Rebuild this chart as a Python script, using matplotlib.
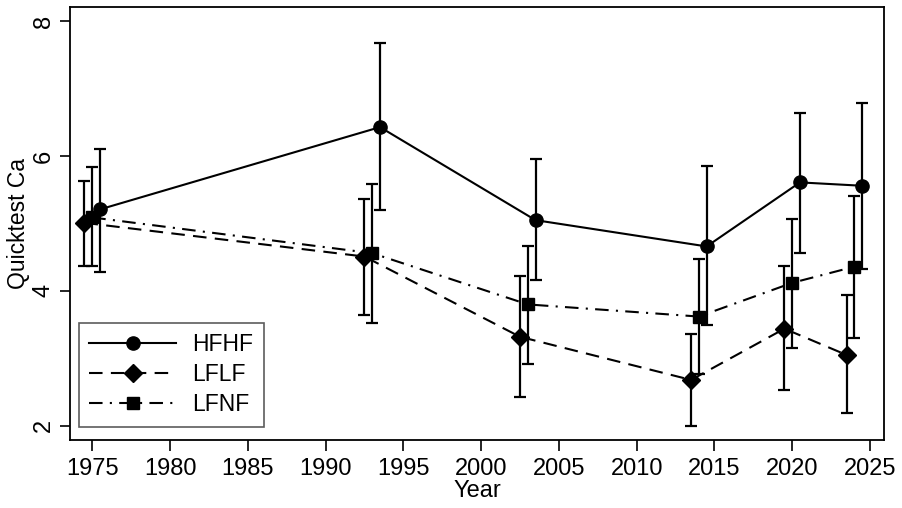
import numpy as np
import matplotlib
matplotlib.use("Agg")
from matplotlib import pyplot as plt

plt.rcParams['font.family'] = ['Liberation Sans', 'DejaVu Sans']

# survey years and the three treatments
years = [1975, 1993, 2003, 2014, 2020, 2024]
groups = ["HFHF", "LFLF", "LFNF"]

# mean and the ends of the error bars for each treatment
hfhf_mean = [5.21, 6.43, 5.05, 4.66, 5.61, 5.56]
hfhf_low = [4.28, 5.20, 4.16, 3.50, 4.57, 4.33]
hfhf_high = [6.10, 7.68, 5.96, 5.86, 6.64, 6.79]

lflf_mean = [5.01, 4.51, 3.32, 2.68, 3.44, 3.05]
lflf_low = [4.37, 3.64, 2.42, 2.00, 2.53, 2.19]
lflf_high = [5.63, 5.36, 4.22, 3.36, 4.37, 3.94]

lfnf_mean = [5.09, 4.56, 3.80, 3.62, 4.12, 4.36]
lfnf_low = [4.37, 3.52, 2.91, 2.77, 3.15, 3.30]
lfnf_high = [5.84, 5.59, 4.66, 4.47, 5.07, 5.41]

fig = plt.figure(figsize=(9.02, 5.08), dpi=100)
ax = fig.add_axes([0.0776, 0.134, 0.9024, 0.852])

series = [
    (hfhf_mean, hfhf_low, hfhf_high, 0.5, 'o', 9.5, '-'),
    (lflf_mean, lflf_low, lflf_high, -0.5, 'D', 9, (0, (6.5, 4))),
    (lfnf_mean, lfnf_low, lfnf_high, 0.0, 's', 9, (0, (6.5, 3.5, 1, 3.5))),
]

yrs = np.array(years, dtype=float)
for name, (m, lo, hi, off, mk, ms, ls) in zip(groups, series):
    m = np.array(m)
    err = [m - np.array(lo), np.array(hi) - m]
    ax.errorbar(yrs + off, m, yerr=err, fmt='none', ecolor='black',
                elinewidth=1.6, capsize=4, capthick=1.6, zorder=2)
    ax.plot(yrs + off, m, color='black', linestyle=ls, linewidth=1.5,
            marker=mk, markersize=ms, label=name, zorder=3)

ax.set_xlim(1973.57, 2025.9)
ax.set_ylim(1.79, 8.21)
ax.set_xticks(range(1975, 2026, 5))
ax.set_yticks([2, 4, 6, 8])
ax.tick_params(axis='x', direction='out', length=8, width=1.2,
               labelsize=17, colors='black', pad=5)
ax.tick_params(axis='y', direction='out', length=7, width=1.2,
               labelsize=17, colors='black', pad=4)
for lab in ax.get_yticklabels():
    lab.set_rotation(90)
    lab.set_va('center')
for s in ax.spines.values():
    s.set_linewidth(1.3)

ax.set_xlabel("Year", fontsize=17, labelpad=0)
ax.set_ylabel("Quicktest Ca", fontsize=16.5, labelpad=2)

leg = ax.legend(loc='lower left', bbox_to_anchor=(0.011, 0.031), fontsize=16.5,
                handlelength=3.8, handletextpad=0.7, frameon=True,
                fancybox=False, borderpad=0.45, labelspacing=0.3,
                borderaxespad=0.0)
leg.get_frame().set_edgecolor('#333333')
leg.get_frame().set_linewidth(1.2)

fig.savefig("out.png", dpi=100)
